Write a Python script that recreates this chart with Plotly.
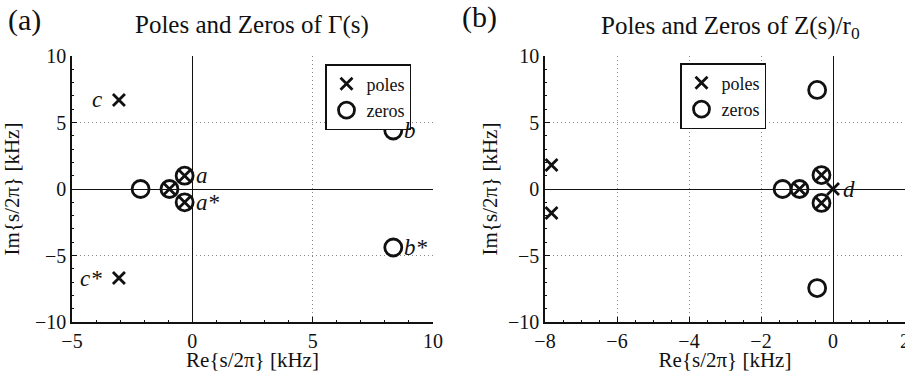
import plotly.graph_objects as go

# ---- data (kHz) ----
gamma_poles_re = [-3.05, -3.05, -0.32, -0.32, -0.95]
gamma_poles_im = [6.7, -6.7, 1.0, -1.0, 0.0]
gamma_zeros_re = [-0.32, -0.32, -0.95, -2.15, 8.35, 8.35]
gamma_zeros_im = [1.0, -1.0, 0.0, 0.0, 4.4, -4.4]

z_poles_re = [-7.82, -7.82, -0.32, -0.32, -0.93, 0.0]
z_poles_im = [1.8, -1.8, 1.05, -1.05, 0.0, 0.0]
z_zeros_re = [-0.44, -0.44, -0.32, -0.32, -0.93, -1.4]
z_zeros_im = [7.45, -7.45, 1.05, -1.05, 0.0, 0.0]

# point labels: (text, re, im, side)
gamma_labels = [("c", -3.05, 6.7, "left"), ("c*", -3.05, -6.7, "left"),
                ("a", -0.32, 1.0, "right"), ("a*", -0.32, -1.0, "right"),
                ("b", 8.35, 4.4, "right"), ("b*", 8.35, -4.4, "right")]
z_labels = [("d", 0.0, 0.0, "right")]

left_ticks_x = [-5, 0, 5, 10]
right_ticks_x = [-8, -6, -4, -2, 0, 2]
ticks_y = [-10, -5, 0, 5, 10]

FONT = "Liberation Serif, Times New Roman, serif"
BLACK = "#111111"

fig = go.Figure()

def add_pz(pre, pim, zre, zim, xa, ya, legend):
    fig.add_trace(go.Scatter(x=zre, y=zim, mode="markers", name="zeros",
                             xaxis=xa, yaxis=ya, legend=legend,
                             marker=dict(symbol="circle-open", size=17, color=BLACK,
                                         line=dict(width=2.8, color=BLACK)),
                             legendrank=2, cliponaxis=False))
    fig.add_trace(go.Scatter(x=pre, y=pim, mode="markers", name="poles",
                             xaxis=xa, yaxis=ya, legend=legend,
                             marker=dict(symbol="x-thin-open", size=12, color=BLACK,
                                         line=dict(width=2.8, color=BLACK)),
                             legendrank=1, cliponaxis=False))

add_pz(gamma_poles_re, gamma_poles_im, gamma_zeros_re, gamma_zeros_im, "x", "y", "legend")
add_pz(z_poles_re, z_poles_im, z_zeros_re, z_zeros_im, "x2", "y2", "legend2")

Y0, Y1 = (372 - 322) / 372, (372 - 56) / 372

def axis(minor_dtick, **kw):
    d = dict(showgrid=True, gridcolor="#8a8a8a", griddash="1px,3px", gridwidth=1,
             zeroline=True, zerolinecolor=BLACK, zerolinewidth=1.2,
             showline=True, linecolor=BLACK, linewidth=1.5,
             ticks="inside", ticklen=5, tickcolor=BLACK,
             tickfont=dict(family=FONT, size=20, color=BLACK),
             minor=dict(ticks="inside", ticklen=2, tickcolor=BLACK, dtick=minor_dtick,
                        showgrid=False),
             automargin=False)
    d.update(kw)
    return d

fig.update_layout(
    width=905, height=372,
    margin=dict(l=0, r=0, t=0, b=0, autoexpand=False),
    paper_bgcolor="white", plot_bgcolor="white",
    showlegend=True,
    xaxis=axis(1, domain=[72 / 905, 433 / 905], range=[-5, 10], tickvals=left_ticks_x,
               anchor="y", automargin=True,
               title=dict(text="Re{s/2π} [kHz]", standoff=3,
                          font=dict(family=FONT, size=21, color=BLACK))),
    yaxis=axis(1, domain=[Y0, Y1], range=[-10, 10], tickvals=ticks_y, anchor="x",
               title=dict(text="Im{s/2π} [kHz]", standoff=22,
                          font=dict(family=FONT, size=21, color=BLACK))),
    xaxis2=axis(0.5, domain=[545 / 905, 1.0], range=[-8, 2], tickvals=right_ticks_x,
                anchor="y2", ticklabeloverflow="allow", automargin=True,
                title=dict(text="Re{s/2π} [kHz]", standoff=3,
                           font=dict(family=FONT, size=21, color=BLACK))),
    yaxis2=axis(1, domain=[Y0, Y1], range=[-10, 10], tickvals=ticks_y, anchor="x2",
                title=dict(text="Im{s/2π} [kHz]", standoff=5,
                           font=dict(family=FONT, size=21, color=BLACK))),
    legend=dict(x=325 / 905, y=(372 - 64) / 372, xanchor="left", yanchor="top",
                bgcolor="white", bordercolor=BLACK, borderwidth=1.5,
                font=dict(family=FONT, size=18, color=BLACK), itemwidth=30,
                tracegroupgap=0),
    legend2=dict(x=680 / 905, y=(372 - 63) / 372, xanchor="left", yanchor="top",
                 bgcolor="white", bordercolor=BLACK, borderwidth=1.5,
                 font=dict(family=FONT, size=18, color=BLACK), itemwidth=30,
                 tracegroupgap=0),
    font=dict(family=FONT, color=BLACK),
)

annotations = [
    dict(text="(a)", x=6 / 905, y=(372 - 20) / 372, xref="paper", yref="paper",
         xanchor="left", yanchor="middle", showarrow=False,
         font=dict(family=FONT, size=30, color=BLACK)),
    dict(text="(b)", x=460 / 905, y=(372 - 17) / 372, xref="paper", yref="paper",
         xanchor="left", yanchor="middle", showarrow=False,
         font=dict(family=FONT, size=30, color=BLACK)),
    dict(text="Poles and Zeros of Γ(s)", x=252 / 905, y=(372 - 25) / 372,
         xref="paper", yref="paper", xanchor="center", yanchor="middle", showarrow=False,
         font=dict(family=FONT, size=25, color=BLACK)),
    dict(text="Poles and Zeros of Z(s)/r<sub>0</sub>", x=730 / 905, y=(372 - 27) / 372,
         xref="paper", yref="paper", xanchor="center", yanchor="middle", showarrow=False,
         font=dict(family=FONT, size=25, color=BLACK)),
]

for txt, re_, im_, side in gamma_labels:
    annotations.append(dict(text=f"<i>{txt}</i>", x=re_, y=im_, xref="x", yref="y",
                            xanchor="left" if side == "right" else "right",
                            xshift=9 if side == "right" else -15, yanchor="middle",
                            showarrow=False, font=dict(family=FONT, size=23, color=BLACK)))
for txt, re_, im_, side in z_labels:
    annotations.append(dict(text=f"<i>{txt}</i>", x=re_, y=im_, xref="x2", yref="y2",
                            xanchor="left", xshift=8, yanchor="middle",
                            showarrow=False, font=dict(family=FONT, size=23, color=BLACK)))

fig.update_layout(annotations=annotations)
fig.write_html("out.html")
